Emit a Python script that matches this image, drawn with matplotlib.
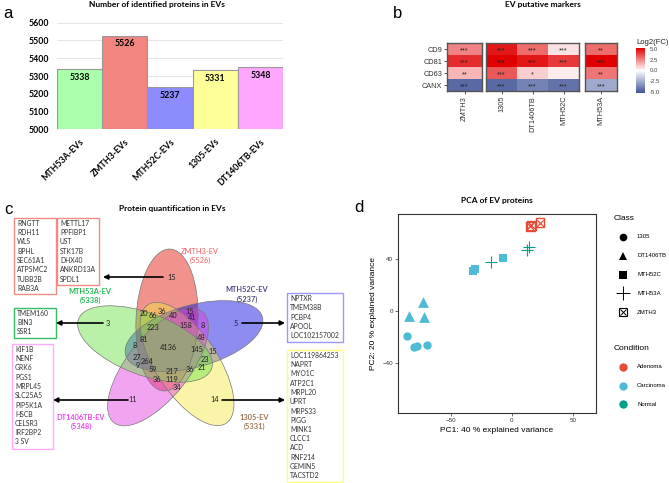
import numpy as np
import matplotlib
matplotlib.use('Agg')
import matplotlib.pyplot as plt
from matplotlib.patches import Ellipse, Rectangle
from matplotlib.colors import LinearSegmentedColormap

# ---- data ----
# a: number of identified proteins
ev_samples = ['MTH53A-EVs', 'ZMTH3-EVs', 'MTH52C-EVs', '1305-EVs', 'DT1406TB-EVs']
n_proteins = [5338, 5526, 5237, 5331, 5348]
bar_colors = ['#aaffaa', '#f2857f', '#8c8cfc', '#ffff99', '#ffa6ff']

# b: EV markers heatmap
markers = ['CD9', 'CD81', 'CD63', 'CANX']
facets = [['ZMTH3'], ['1305', 'DT1406TB', 'MTH52C'], ['MTH53A']]
log2fc = {
    'ZMTH3':    [2.5, 4.3, 1.5, -4.5],
    '1305':     [4.7, 5.3, 3.4, -4.5],
    'DT1406TB': [3.0, 4.7, 1.0, -3.7],
    'MTH52C':   [0.6, 4.0, 0.4, -4.2],
    'MTH53A':   [3.0, 5.6, 2.8, -2.6],
}
signif = {
    'ZMTH3':    ['***', '***', '**', '***'],
    '1305':     ['***', '***', '***', '***'],
    'DT1406TB': ['***', '***', '*', '***'],
    'MTH52C':   ['***', '***', '', '***'],
    'MTH53A':   ['**', '***', '**', '***'],
}

# c: venn counts
venn_sets = ['ZMTH3-EV', 'MTH52C-EV', '1305-EV', 'DT1406TB-EV', 'MTH53A-EV']
venn_totals = [5526, 5237, 5331, 5348, 5338]
venn_counts = [15, 5, 14, 11, 3, 36, 20, 66, 15, 40, 41, 223, 158, 8, 81, 48, 8,
               4136, 145, 15, 27, 264, 23, 9, 59, 217, 36, 21, 36, 119, 34]
unique_zmth3_a = ['RNGTT', 'RDH11', 'WLS', 'BPHL', 'SEC61A1', 'ATP5MC2', 'TUBB2B', 'RAB3A']
unique_zmth3_b = ['METTL17', 'PPFIBP1', 'UST', 'STK17B', 'DHX40', 'ANKRD13A', 'SPDL1']
unique_mth53a = ['TMEM160', 'BIN3', 'SSR1']
unique_dt1406tb = ['KIF1B', 'NENF', 'GRK6', 'PGS1', 'MRPL45', 'SLC25A5', 'PIP5K1A',
                   'HSCB', 'CELSR3', 'IRF2BP2', '3 SV']
unique_mth52c = ['NPTXR', 'TMEM38B', 'PCBP4', 'APOOL', 'LOC102157002']
unique_1305 = ['LOC119864253', 'NAPRT', 'MYO1C', 'ATP2C1', 'MRPL20', 'UPRT', 'MRPS33',
               'PIGG', 'MINK1', 'CLCC1', 'ACD', 'RNF214', 'GEMIN5', 'TACSTD2']

# d: PCA
pca_class = ['ZMTH3', 'ZMTH3', 'ZMTH3', 'MTH53A', 'MTH53A', 'MTH53A',
             'MTH52C', 'MTH52C', 'MTH52C', 'DT1406TB', 'DT1406TB', 'DT1406TB',
             '1305', '1305', '1305', '1305']
pc1 = [15, 16, 23, 12, 14, -17, -32, -30, -7, -73, -84, -72, -86, -80, -78, -70]
pc2 = [65, 66, 68, 47, 49, 38, 31, 32, 41, 7, -4, -5, -19, -28, -27, -26]
class_condition = {'1305': 'Carcinoma', 'DT1406TB': 'Carcinoma', 'MTH52C': 'Carcinoma',
                   'MTH53A': 'Normal', 'ZMTH3': 'Adenoma'}
cond_colors = {'Adenoma': '#e64b35', 'Carcinoma': '#4dbbd5', 'Normal': '#00a087'}

# ---- figure ----
W, H = 669, 483
fig = plt.figure(figsize=(W / 100, H / 100), dpi=100)
CAL = 'Lato'
ARI = 'Liberation Sans'


def px_axes(l, t, r, b):
    return fig.add_axes([l / W, 1 - b / H, (r - l) / W, (b - t) / H])


ov = fig.add_axes([0, 0, 1, 1])
ov.set_xlim(0, W)
ov.set_ylim(H, 0)
ov.axis('off')

for lab, x, y in [('a', 8, 14), ('b', 398, 14), ('c', 8, 209), ('d', 359, 208)]:
    ov.text(x, y, lab, fontsize=12, family=ARI, ha='center', va='center')

# ---- a ----
ov.text(157, 5, 'Number of identified proteins in EVs', fontsize=6, weight='bold',
        family=CAL, ha='center', va='center')
ax = px_axes(57, 22.7, 283, 129.3)
xs = np.arange(len(ev_samples))
ax.bar(xs, n_proteins, width=1.0, color=bar_colors, edgecolor='#999999', linewidth=0.8,
       zorder=2)
ax.set_xlim(-0.5, 4.5)
ax.set_ylim(5000, 5600)
ax.set_yticks(range(5000, 5601, 100))
ax.yaxis.grid(True, color='#e0e0e0', lw=0.6, zorder=0)
for s in ax.spines.values():
    s.set_visible(False)
ax.tick_params(length=0, pad=5.5)
for t in ax.get_yticklabels():
    t.set_fontsize(6.3)
    t.set_weight('bold')
    t.set_family(CAL)
ax.set_xticks(xs)
ax.set_xticklabels(ev_samples, rotation=45, ha='right', rotation_mode='anchor',
                   fontsize=6.3, weight='bold', family=CAL)
for x, v in zip(xs, n_proteins):
    ax.annotate(str(v), (x, v), xytext=(0, -5.8), textcoords='offset points',
                ha='center', va='center', fontsize=6.3, weight='bold', family=CAL)

# ---- b ----
ov.text(543, 5, 'EV putative markers', fontsize=6, weight='bold', family=CAL,
        ha='center', va='center')
cmap = LinearSegmentedColormap.from_list('fc', ['#3f5397', '#ffffff', '#e00000'])
facet_px = [(447, 482), (486, 579), (585, 617)]
im = None
for k, (cols, (l, r)) in enumerate(zip(facets, facet_px)):
    fa = px_axes(l, 43, r, 91)
    mat = np.array([log2fc[c] for c in cols]).T
    im = fa.imshow(mat, cmap=cmap, vmin=-5.2, vmax=5.2, aspect='auto')
    for j, c in enumerate(cols):
        for i, s in enumerate(signif[c]):
            fa.text(j, i + 0.15, s, ha='center', va='center', fontsize=5.2,
                    family=ARI, color='#222222')
    fa.set_xticks(range(len(cols)))
    fa.set_xticklabels(cols, rotation=90, fontsize=5.3, family=ARI, color='#333333')
    if k == 0:
        fa.set_yticks(range(len(markers)))
        fa.set_yticklabels(markers, fontsize=5.3, family=ARI, color='#333333')
    else:
        fa.set_yticks([])
    fa.tick_params(length=2, width=0.6, pad=1.5, color='#333333')
    for s in fa.spines.values():
        s.set_color('#555555')
        s.set_linewidth(1.0)

cax = px_axes(636, 48, 645, 93)
cb = fig.colorbar(im, cax=cax, ticks=[5, 2.5, 0, -2.5, -5])
cb.ax.set_yticklabels(['5.0', '2.5', '0.0', '-2.5', '-5.0'], fontsize=4.3, family=ARI,
                      color='#444444')
cb.ax.tick_params(length=2, color='white', pad=1.5)
cb.outline.set_visible(False)
ov.text(636, 42, 'Log2(FC)', fontsize=5.5, family=ARI, ha='left', va='center',
        color='#222222')

# ---- c ----
ov.text(172, 209, 'Protein quantification in EVs', fontsize=6, weight='bold', family=CAL,
        ha='center', va='center')
# ellipse layout: centre (px), pointing angle (deg, y up), fill colour
ellipses = [
    ((167, 320), 87.5, '#e11100'),    # ZMTH3
    ((194, 336), 15.5, '#0000e1'),    # MTH52C
    ((187, 364), -56.5, '#f5e741'),   # 1305
    ((158, 367), -128.5, '#e139e1'),  # DT1406TB
    ((145, 344), 159.5, '#67e141'),   # MTH53A
]
EL_LONG, EL_SHORT = 142, 62
for (c, ang, col) in ellipses:
    ov.add_patch(Ellipse(c, EL_LONG, EL_SHORT, angle=-ang, facecolor=col, alpha=0.45,
                         edgecolor='none'))
for (c, ang, col) in ellipses:
    ov.add_patch(Ellipse(c, EL_LONG, EL_SHORT, angle=-ang, facecolor='none',
                         edgecolor='#777777', lw=0.5))

count_pos = [(172, 277), (236, 324), (215, 400), (133, 400), (108, 324),
             (162, 311), (144, 313), (153, 316), (190, 311), (173, 316), (192, 317),
             (153, 327), (186, 325), (203, 325), (144, 339), (201, 338), (135, 346),
             (168, 347), (197, 349), (213, 352), (137, 358), (147, 361), (205, 359),
             (138, 365), (153, 370), (172, 372), (190, 370), (202, 368), (157, 380),
             (172, 380), (177, 388)]
for n, (x, y) in zip(venn_counts, count_pos):
    ov.text(x, y, str(n), fontsize=5.3, family=CAL, ha='center', va='center',
            color='#222222')

set_label_pos = [(200, 251), (247, 290), (254, 417), (81, 417), (90, 291)]
set_label_col = ['#f08080', '#4d4d80', '#9b7653', '#ee44ee', '#22bb55']
for name, tot, (x, y), col in zip(venn_sets, venn_totals, set_label_pos, set_label_col):
    ov.text(x, y, name, fontsize=5.3, weight='bold', family=CAL, color=col,
            ha='center', va='center')
    ov.text(x, y + 9.5, '(%d)' % tot, fontsize=5.3, weight='bold', family=CAL,
            color=col, ha='center', va='center')

arrows = [((163, 277), (103, 277)), ((103, 323), (56, 323)), ((128, 400), (53, 400)),
          ((242, 323), (285, 323)), ((222, 400), (285, 400))]
for (x0, y0), (x1, y1) in arrows:
    ov.annotate('', xy=(x1, y1), xytext=(x0, y0),
                arrowprops=dict(arrowstyle='-|>', color='black', lw=1.2,
                                mutation_scale=7, shrinkA=0, shrinkB=0))

boxes = [
    (unique_zmth3_a, 14, 218, 56, 294, '#f08a84'),
    (unique_zmth3_b, 57, 218, 99, 285, '#f08a84'),
    (unique_mth53a, 14, 308, 56, 338, '#33bb66'),
    (unique_dt1406tb, 12, 344, 53, 449, '#ffaaff'),
    (unique_mth52c, 287, 293, 343, 342, '#9999ff'),
    (unique_1305, 287, 350, 343, 482, '#ffff77'),
]
for genes, l, t, r, b, col in boxes:
    ov.add_patch(Rectangle((l, t), r - l, b - t, facecolor='none', edgecolor=col, lw=1.0))
    for i, g in enumerate(genes):
        ov.text(l + 3, t + 5.5 + i * 9.25, g, fontsize=4.9, family=CAL, ha='left',
                va='center', color='#333333')

# ---- d ----
ov.text(497, 200, 'PCA of EV proteins', fontsize=6, weight='bold', family=CAL,
        ha='center', va='center')
axd = px_axes(398, 214, 596, 413)
class_markers = {'1305': 'o', 'DT1406TB': '^', 'MTH52C': 's', 'MTH53A': '+', 'ZMTH3': 's'}
class_sizes = {'1305': 36, 'DT1406TB': 60, 'MTH52C': 40, 'MTH53A': 80, 'ZMTH3': 40}
pc1 = np.array(pc1)
pc2 = np.array(pc2)
pca_class = np.array(pca_class)
for c in ['1305', 'DT1406TB', 'MTH52C', 'MTH53A', 'ZMTH3']:
    sel = pca_class == c
    col = cond_colors[class_condition[c]]
    if c == 'ZMTH3':
        axd.scatter(pc1[sel], pc2[sel], marker='s', s=40, facecolors='none',
                    edgecolors=col, linewidths=1.0)
        axd.scatter(pc1[sel], pc2[sel], marker='x', s=22, color=col, linewidths=0.9)
    elif c == 'MTH53A':
        axd.scatter(pc1[sel], pc2[sel], marker='+', s=80, color=col, linewidths=0.8)
    else:
        axd.scatter(pc1[sel], pc2[sel], marker=class_markers[c], s=class_sizes[c],
                    color=col, linewidths=0)
axd.set_xlim(-93.4, 68.9)
axd.set_ylim(-78.5, 74.6)
axd.set_xticks([-50, 0, 50])
axd.set_yticks([-40, 0, 40])
axd.tick_params(labelsize=4.5, length=2, width=0.5, pad=1.5, colors='#333333')
for t in axd.get_xticklabels() + axd.get_yticklabels():
    t.set_family(ARI)
for s in axd.spines.values():
    s.set_color('#333333')
    s.set_linewidth(0.8)
axd.set_xlabel('PC1: 40 % explained variance', fontsize=6, family=ARI, labelpad=3)
axd.set_ylabel('PC2: 20 % explained variance', fontsize=6, family=ARI, labelpad=4)

# legends (keys drawn by hand in the overlay)
ov.text(614, 219, 'Class', fontsize=6, family=ARI, ha='left', va='center')
for i, c in enumerate(['1305', 'DT1406TB', 'MTH52C', 'MTH53A', 'ZMTH3']):
    y = 237 + i * 18.8
    if c == 'ZMTH3':
        ov.plot([623], [y], marker='s', ms=6, mfc='none', mec='black', mew=0.8)
        ov.plot([623], [y], marker='x', ms=4.5, color='black', mew=0.7)
    elif c == 'MTH53A':
        ov.plot([623], [y], marker='+', ms=10, color='black', mew=0.7)
    else:
        ov.plot([623], [y], marker=class_markers[c], ms=5.5, color='black', mew=0)
    ov.text(637, y, c, fontsize=4.3, family=ARI, ha='left', va='center')
ov.text(614, 349, 'Condition', fontsize=6, family=ARI, ha='left', va='center')
for i, cond in enumerate(['Adenoma', 'Carcinoma', 'Normal']):
    y = 367 + i * 18.7
    ov.plot([623], [y], marker='o', ms=6, color=cond_colors[cond], mew=0)
    ov.text(637, y, cond, fontsize=4.3, family=ARI, ha='left', va='center')

fig.savefig('out.png', dpi=100)
